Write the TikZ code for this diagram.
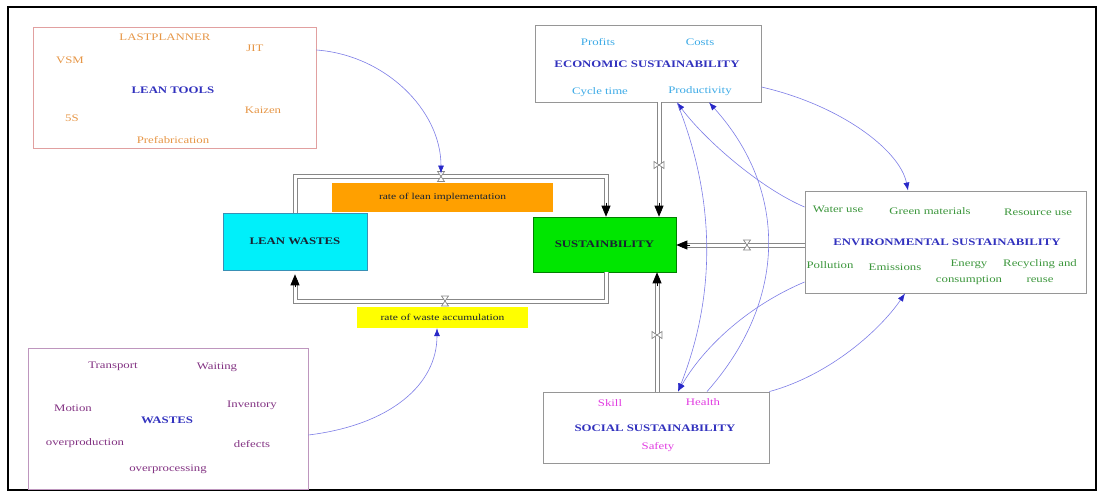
\documentclass[tikz,border=0pt]{standalone}
\usepackage{fontspec}
\setmainfont[FakeStretch=1.28]{Liberation Serif}
\usetikzlibrary{arrows.meta}
\definecolor{toolsborder}{RGB}{225,160,160}
\definecolor{toolstext}{RGB}{230,150,70}
\definecolor{titleblue}{RGB}{50,50,190}
\definecolor{ecotext}{RGB}{60,170,230}
\definecolor{envtext}{RGB}{60,150,60}
\definecolor{soctext}{RGB}{225,60,225}
\definecolor{wastetext}{RGB}{130,50,130}
\definecolor{wasteborder}{RGB}{190,150,190}
\definecolor{boxgray}{RGB}{150,150,150}
\definecolor{pipegray}{RGB}{135,135,135}
\definecolor{linkblue}{RGB}{125,125,230}
\definecolor{tipblue}{RGB}{40,40,200}
\definecolor{lwcyan}{RGB}{0,240,250}
\definecolor{susgreen}{RGB}{0,230,0}
\definecolor{rateorange}{RGB}{255,160,0}
\definecolor{rateyellow}{RGB}{255,255,0}
\definecolor{darktext}{RGB}{25,35,50}
\begin{document}
\begin{tikzpicture}[x=1pt,y=-1pt,
  every node/.style={font=\fontsize{10}{11}\selectfont, inner sep=0pt},
  frame/.style={draw, line width=0.9pt},
  title/.style={font=\fontsize{10}{11}\selectfont\bfseries, text=titleblue},
  item/.style={font=\fontsize{10}{11}\selectfont},
  stock/.style={draw=boxgray, line width=0.6pt, font=\fontsize{10}{11}\selectfont\bfseries, text=darktext},
  rate/.style={font=\fontsize{9}{10}\selectfont, text=darktext},
  pipe/.style={draw=pipegray, double=white, double distance=3pt, line width=1pt},
  pipetip/.style={-{Triangle[length=11pt,width=9pt]}, black, line width=0.7pt},
  link/.style={draw=linkblue, line width=0.6pt, -{Latex[length=8pt,width=6pt,color=tipblue]}},
  hvalve/.pic={\draw[fill=white, draw=pipegray, line width=0.7pt] (-3.5,-5) -- (3.5,-5) -- (-3.5,5) -- (3.5,5) -- cycle;},
  vvalve/.pic={\draw[fill=white, draw=pipegray, line width=0.7pt] (-5,-3.5) -- (-5,3.5) -- (5,-3.5) -- (5,3.5) -- cycle;}
]
\useasboundingbox (0,0) rectangle (1100,493);
\draw[line width=1.5pt] (8,7) rectangle (1096,490);

% ---- LEAN TOOLS box
\node[frame, draw=toolsborder, minimum width=283pt, minimum height=121pt] (tools) at (174.5,87.5) {};
\node[item, text=toolstext] (lastplanner) at (165,37) {LASTPLANNER};
\node[item, text=toolstext] (jit) at (255,48) {JIT};
\node[item, text=toolstext] (vsm) at (70,60) {VSM};
\node[title] (toolstitle) at (173,90) {LEAN TOOLS};
\node[item, text=toolstext] (kaizen) at (263,110) {Kaizen};
\node[item, text=toolstext] (fives) at (72,118) {5S};
\node[item, text=toolstext] (prefab) at (173,140) {Prefabrication};

% ---- ECONOMIC box
\node[frame, draw=boxgray, minimum width=226pt, minimum height=77pt] (eco) at (648,63.5) {};
\node[item, text=ecotext] (profits) at (598,42) {Profits};
\node[item, text=ecotext] (costs) at (700,42) {Costs};
\node[title] (ecotitle) at (647,64) {ECONOMIC SUSTAINABILITY};
\node[item, text=ecotext] (cycle) at (600,92) {Cycle time};
\node[item, text=ecotext] (product) at (700,91) {Productivity};

% ---- ENVIRONMENTAL box
\node[frame, draw=boxgray, minimum width=281pt, minimum height=102pt] (env) at (945.5,242) {};
\node[item, text=envtext] (water) at (838,209) {Water use};
\node[item, text=envtext] (green) at (930,211) {Green materials};
\node[item, text=envtext] (resource) at (1038,212) {Resource use};
\node[title] (envtitle) at (947,242) {ENVIRONMENTAL SUSTAINABILITY};
\node[item, text=envtext] (pollution) at (830,265) {Pollution};
\node[item, text=envtext] (emissions) at (895,267) {Emissions};
\node[item, text=envtext, align=center, font=\fontsize{10}{16}\selectfont] (energy) at (969,272) {Energy\\consumption};
\node[item, text=envtext, align=center, font=\fontsize{10}{16}\selectfont] (recycle) at (1040,271.5) {Recycling and\\reuse};

% ---- SOCIAL box
\node[frame, draw=boxgray, minimum width=226pt, minimum height=71pt] (soc) at (656,427.5) {};
\node[item, text=soctext] (skill) at (610,403) {Skill};
\node[item, text=soctext] (health) at (703,402) {Health};
\node[title] (soctitle) at (655,428) {SOCIAL SUSTAINABILITY};
\node[item, text=soctext] (safety) at (658,447) {Safety};

% ---- WASTES box
\node[frame, draw=wasteborder, minimum width=280pt, minimum height=141pt] (wastes) at (168,418.5) {};
\node[item, text=wastetext] (transport) at (113,366) {Transport};
\node[item, text=wastetext] (waiting) at (217,367) {Waiting};
\node[item, text=wastetext] (motion) at (73,408) {Motion};
\node[title] (wastestitle) at (167,420) {WASTES};
\node[item, text=wastetext] (inventory) at (252,405) {Inventory};
\node[item, text=wastetext] (overprod) at (85,443) {overproduction};
\node[item, text=wastetext] (defects) at (252,444) {defects};
\node[item, text=wastetext] (overproc) at (168,469) {overprocessing};

% ---- stocks and rates
\node[stock, fill=lwcyan, draw=cyan!70!black, minimum width=144pt, minimum height=57pt] (lw) at (295,241.5) {LEAN WASTES};
\node[stock, fill=susgreen, draw=green!50!black, minimum width=143pt, minimum height=55pt] (sus) at (604.5,244.5) {SUSTAINBILITY};
\node[rate, fill=rateorange, minimum width=221pt, minimum height=29pt] (rlean) at (442.5,197.5) {rate of lean implementation};
\node[rate, fill=rateyellow, minimum width=171pt, minimum height=21pt] (rwaste) at (442.5,317.5) {rate of waste accumulation};

% ---- pipe corner coordinates
\coordinate (t1) at (295,176.5);
\coordinate (t2) at (606,176.5);
\coordinate (b1) at (606,301);
\coordinate (b2) at (295,301);
\coordinate (v1) at (441,176.5);
\coordinate (v2) at (445,301);
\coordinate (v3) at (659,165);
\coordinate (v4) at (657,335);
\coordinate (v5) at (747,245);

% top pipe: lean wastes -> sustainability
\draw[pipe] (lw.north) -- (t1) -- (t2) -- ([yshift=6pt]sus.north -| t2);
\draw[pipetip] ([yshift=14pt]sus.north -| t2) -- (sus.north -| t2);
% bottom pipe: sustainability -> lean wastes
\draw[pipe] (sus.south -| b1) -- (b1) -- (b2) -- ([yshift=-10pt]lw.south -| b2);
\draw[pipetip] ([yshift=-17pt]lw.south -| b2) -- ([yshift=-4pt]lw.south -| b2);
% economic -> sustainability
\draw[pipe] (eco.south -| v3) -- ([yshift=6pt]sus.north -| v3);
\draw[pipetip] ([yshift=14pt]sus.north -| v3) -- (sus.north -| v3);
% social -> sustainability
\draw[pipe] (soc.north -| v4) -- ([yshift=-6pt]sus.south -| v4);
\draw[pipetip] ([yshift=-14pt]sus.south -| v4) -- (sus.south -| v4);
% environmental -> sustainability
\draw[pipe] (env.west |- v5) -- ([xshift=6pt]sus.east |- v5);
\draw[pipetip] ([xshift=14pt]sus.east |- v5) -- (sus.east |- v5);

% valves
\pic at (v1) {hvalve};
\pic at (v2) {hvalve};
\pic at (v3) {vvalve};
\pic at (v4) {vvalve};
\pic at (v5) {hvalve};

% ---- influence links
\draw[link] ([yshift=37.5pt]tools.east) .. controls (385,55) and (441,110) .. ([yshift=3pt]v1);
\draw[link] ([yshift=-16.5pt]wastes.east) .. controls (390,425) and (437,385) .. ([xshift=-5.5pt]rwaste.south);
\draw[link] ([yshift=-23.5pt]eco.east) .. controls (840,105) and (900,150) .. ([xshift=-37.5pt]env.north);
\draw[link] ([yshift=35pt]env.west) .. controls (760,188) and (705,140) .. ([xshift=29pt]eco.south);
\draw[link] ([xshift=29pt]eco.south) .. controls (716,200) and (716,295) .. ([xshift=22pt]soc.north);
\draw[link] ([xshift=51pt]soc.north) .. controls (788,300) and (788,190) .. ([xshift=61pt]eco.south);
\draw[link] ([yshift=-40pt]env.west) .. controls (750,305) and (705,345) .. ([xshift=22pt]soc.north);
\draw[link] (soc.north east) .. controls (830,375) and (880,330) .. ([xshift=-40.5pt]env.south);
\end{tikzpicture}
\end{document}
